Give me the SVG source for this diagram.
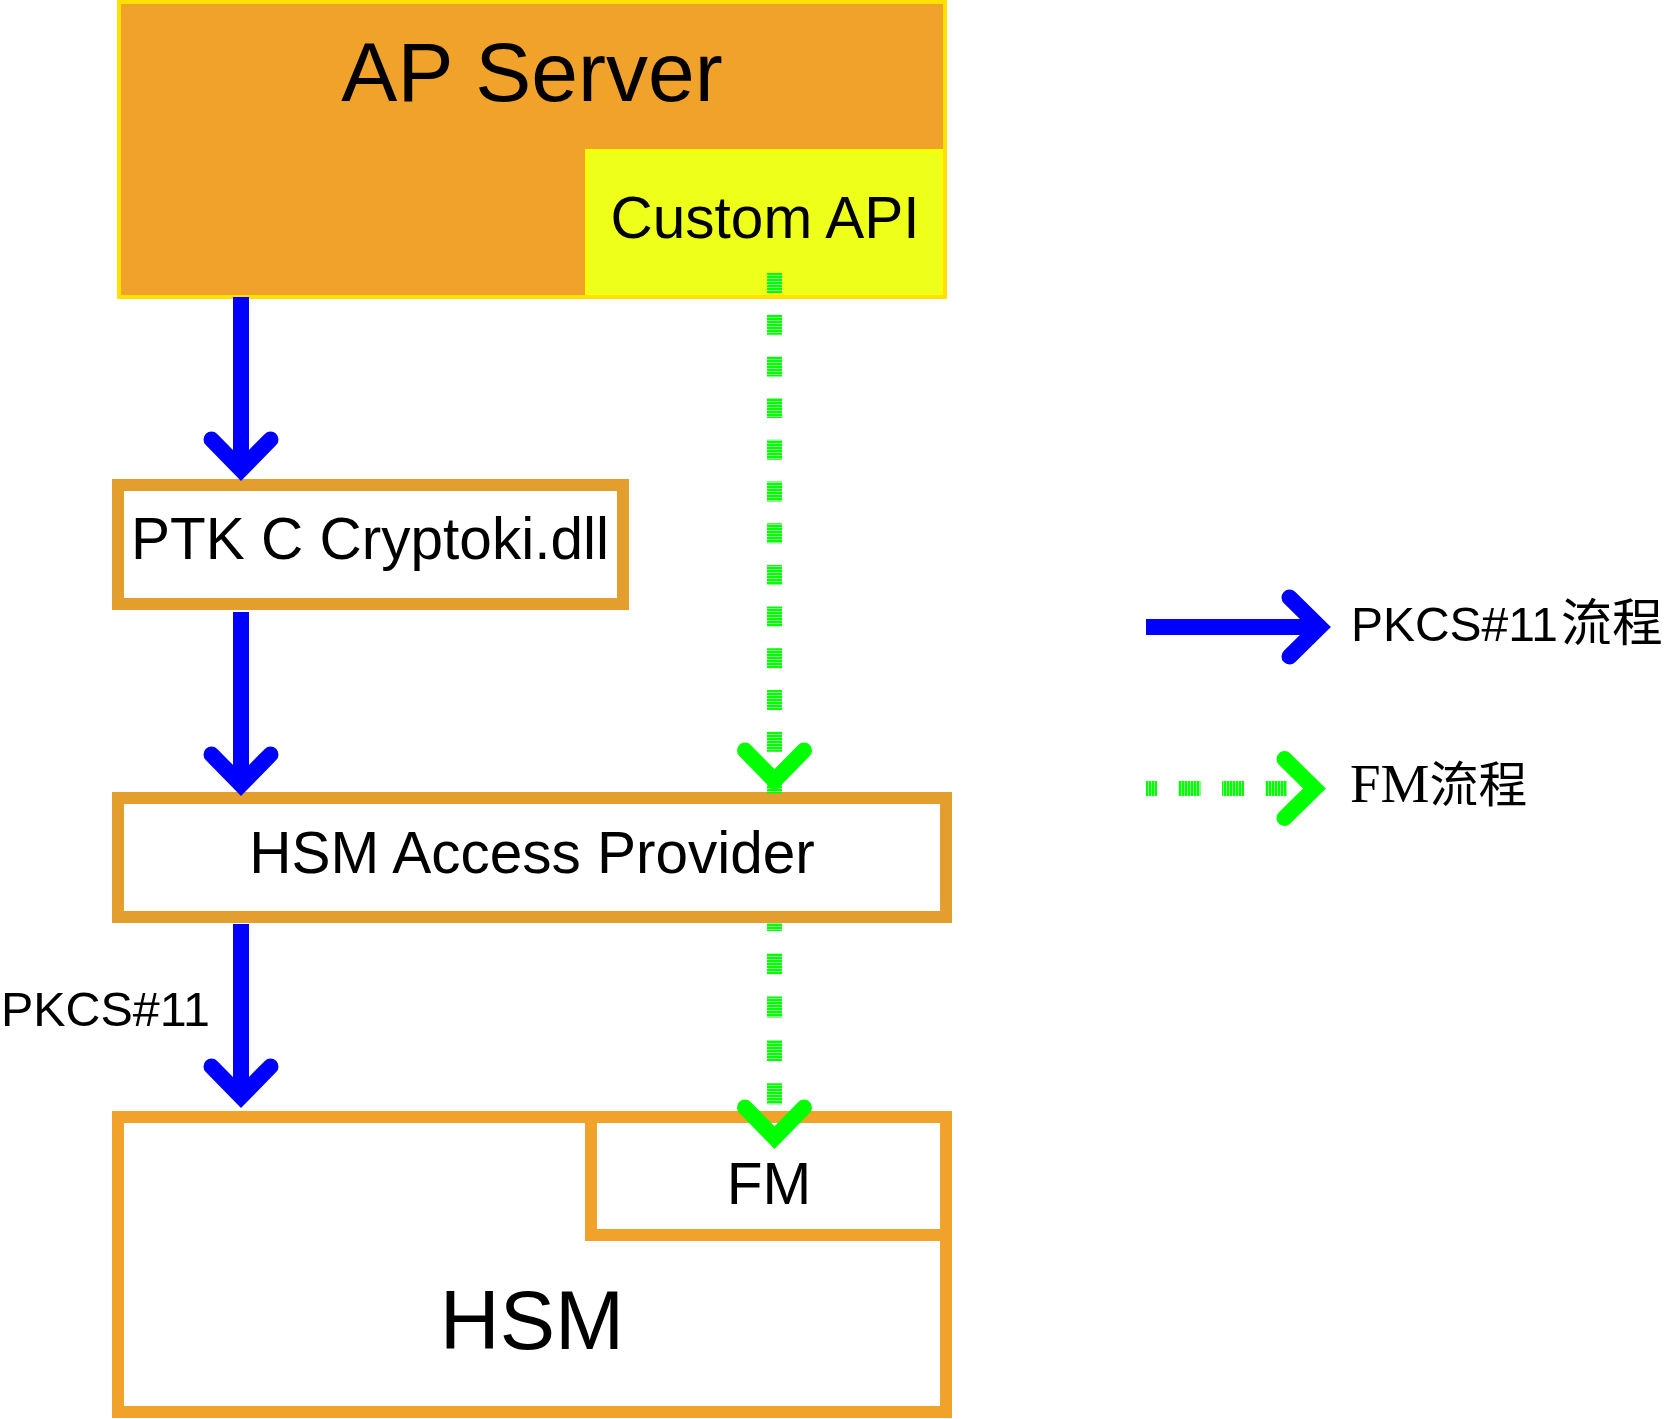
<svg xmlns="http://www.w3.org/2000/svg" width="1665" height="1419" viewBox="0 0 1665 1419">
  <style>
    .t { font-family: "Liberation Sans", Arial, "Noto Sans CJK TC", sans-serif; fill: #000; }
    .c { text-anchor: middle; }
    .box1 { fill: #FFFFFF; stroke: #E39E2D; stroke-width: 12; }
    .box2 { fill: #FFFFFF; stroke: #F0A22A; stroke-width: 12; }
    .blue { fill: none; stroke: #0000FF; stroke-width: 16; }
    .head { fill: none; stroke-width: 16; stroke-linecap: round; stroke-linejoin: miter; }
    .bh { stroke: #0000FF; }
    .gh { stroke: #00FF00; }
    .gv { fill: none; stroke: url(#stripeV); stroke-width: 15; }
    .gx { fill: none; stroke: url(#stripeH); stroke-width: 15; }
  </style>
  <defs>
    <pattern id="stripeV" patternUnits="userSpaceOnUse" x="0" y="0" width="20" height="3">
      <rect width="20" height="3" fill="#8CFF8C"/>
      <rect width="20" height="2" fill="#00FF00"/>
    </pattern>
    <pattern id="stripeH" patternUnits="userSpaceOnUse" x="0" y="0" width="3" height="20">
      <rect width="3" height="20" fill="#8CFF8C"/>
      <rect width="2" height="20" fill="#00FF00"/>
    </pattern>
  </defs>
  <rect width="1665" height="1419" fill="#FFFFFF"/>

  <g id="ap-server">
    <rect x="119" y="2" width="826" height="295" fill="#F0A22A"/>
    <text class="t c" x="532" y="101" font-size="84">AP Server</text>
  </g>
  <g id="custom-api">
    <rect x="586.5" y="150.5" width="356" height="145" fill="#EEFF1A" stroke="#FFFF00" stroke-width="3"/>
    <text class="t c" x="765" y="238" font-size="58.5">Custom API</text>
  </g>
  <rect id="ap-server-border" x="119" y="2" width="826" height="295" fill="none" stroke="#FFE000" stroke-width="4"/>

  <g id="ptk">
    <rect class="box1" x="118" y="485" width="505" height="119"/>
    <text class="t c" x="370" y="559" font-size="58.5">PTK C Cryptoki.dll</text>
  </g>

  <g id="hsm-access-provider">
    <rect class="box1" x="118" y="798" width="828" height="119"/>
    <text class="t c" x="532" y="873" font-size="58.5">HSM Access Provider</text>
  </g>

  <g id="hsm">
    <rect class="box2" x="118" y="1117" width="828" height="295"/>
    <text class="t c" x="532" y="1349" font-size="83">HSM</text>
  </g>
  <g id="fm">
    <rect class="box2" x="591" y="1117" width="355" height="118"/>
    <text class="t c" x="769" y="1204" font-size="58.5">FM</text>
  </g>

  <g id="connectors">
    <path class="blue" d="M241,297 V469"/>
    <path class="head bh" d="M211.5,439.5 L241,469.5 L270.5,439.5"/>
    <path class="blue" d="M241,612 V784"/>
    <path class="head bh" d="M211.5,754.5 L241,784.5 L270.5,754.5"/>
    <path class="blue" d="M241,924 V1096"/>
    <path class="head bh" d="M211.5,1066.5 L241,1096.5 L270.5,1066.5"/>
    <text class="t" x="1" y="1026" font-size="49" textLength="209" lengthAdjust="spacingAndGlyphs">PKCS#11</text>

    <path class="gv" d="M774.5,273 V794" stroke-dasharray="20 21.7"/>
    <path class="head gh" d="M745,750.5 L774.5,780.5 L804,750.5"/>
    <path class="gv" d="M774.5,923 V1106" stroke-dasharray="21 22.3" stroke-dashoffset="13"/>
    <path class="head gh" d="M745,1107.5 L774.5,1137.5 L804,1107.5"/>
  </g>

  <g id="legend">
    <path class="blue" d="M1146,627 H1319"/>
    <path class="head bh" d="M1289.5,597.5 L1319.5,627 L1289.5,656.5"/>
    <text class="t" x="1351" y="641" font-size="49"><tspan textLength="207" lengthAdjust="spacingAndGlyphs">PKCS#11</tspan><tspan dx="3" font-size="51" font-family="'Noto Sans CJK TC', 'Noto Sans CJK SC', sans-serif">流程</tspan></text>

    <path class="gx" d="M1146,788.5 H1287" stroke-dasharray="22 21.5" stroke-dashoffset="11"/>
    <path class="head gh" d="M1284.5,759 L1314.5,788.5 L1284.5,818"/>
    <text x="1350" y="802" font-size="55" font-family="'Liberation Serif', 'Times New Roman', 'Noto Sans CJK TC', serif">FM<tspan font-size="49" font-family="'Noto Sans CJK TC', 'Noto Sans CJK SC', sans-serif">流程</tspan></text>
  </g>
</svg>
